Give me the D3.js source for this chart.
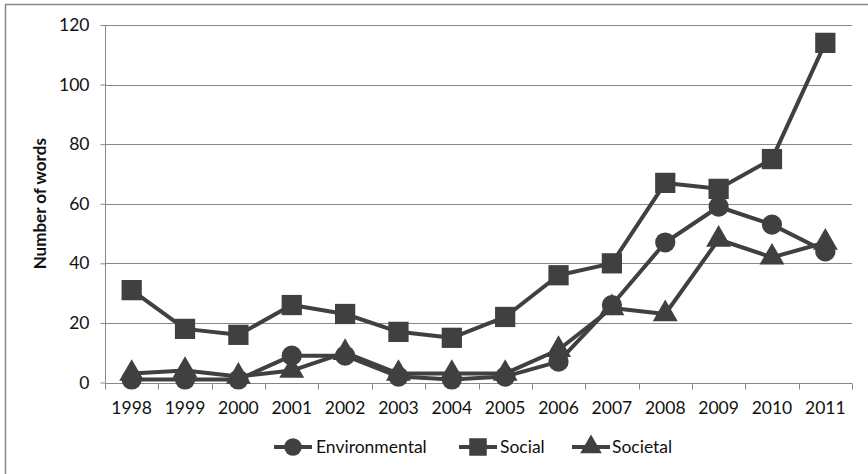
<!DOCTYPE html>
<html>
<head>
<meta charset="utf-8">
<script src="https://cdn.jsdelivr.net/npm/d3@7"></script>
<style>
  html, body { margin: 0; padding: 0; background: #fff; }
  svg { display: block; }
  text { font-family: Lato, "Open Sans", sans-serif; fill: #111; }
</style>
</head>
<body>
<svg id="chart" width="868" height="474"></svg>
<script>
// Years on the category axis
const years = ["1998","1999","2000","2001","2002","2003","2004","2005","2006","2007","2008","2009","2010","2011"];

// Word counts per year for each term
const environmental = [1, 1, 1, 9, 9, 2, 1, 2, 7, 26, 47, 59, 53, 44];
const social        = [31, 18, 16, 26, 23, 17, 15, 22, 36, 40, 67, 65, 75, 114];
const societal      = [3, 4, 2, 4, 10, 3, 3, 3, 11, 25, 23, 48, 42, 47];

// Value axis ticks
const yTicks = [0, 20, 40, 60, 80, 100, 120];

const seriesNames = ["Environmental", "Social", "Societal"];
const seriesValues = [environmental, social, societal];
const seriesSymbols = [d3.symbolCircle, d3.symbolSquare, d3.symbolTriangle];
const symbolSizes = [320, 410, 270];

const ink = "#404040";
const gridColor = "#878787";

const svg = d3.select("#chart");

// Outer chart frame (open on the right and bottom edges of the canvas)
svg.append("rect")
  .attr("x", 5.5).attr("y", 4.5)
  .attr("width", 900).attr("height", 500)
  .attr("fill", "none")
  .attr("stroke", gridColor)
  .attr("stroke-width", 1.5);

const plot = { left: 105, right: 852, top: 25, bottom: 382.5 };

const x = d3.scaleBand().domain(years).range([plot.left, plot.right]).padding(0);
const y = d3.scaleLinear().domain([0, 120]).range([plot.bottom, plot.top]);

// Horizontal gridlines
svg.append("g")
  .selectAll("line")
  .data(yTicks.filter(t => t > 0))
  .join("line")
  .attr("x1", plot.left).attr("x2", plot.right)
  .attr("y1", d => Math.round(y(d)) + 0.5).attr("y2", d => Math.round(y(d)) + 0.5)
  .attr("stroke", gridColor).attr("stroke-width", 1);

// Y axis
const yAxis = svg.append("g")
  .attr("transform", `translate(${plot.left + 0.5},0)`)
  .call(d3.axisLeft(y).tickValues(yTicks).tickSize(5).tickPadding(11).tickFormat(d3.format("d")));
yAxis.select(".domain").attr("stroke", gridColor).attr("d", `M0,${plot.top}V${plot.bottom}`);
yAxis.selectAll(".tick line").attr("stroke", gridColor);
yAxis.selectAll(".tick text").style("font-size", "17.5px").attr("fill", "#111");

// X axis: ticks sit on the category boundaries, labels at band centres
const xAxisG = svg.append("g")
  .attr("transform", `translate(0,${Math.round(plot.bottom) + 0.5})`);
xAxisG.append("line")
  .attr("x1", plot.left).attr("x2", plot.right)
  .attr("stroke", gridColor);
const boundaries = years.map(yr => x(yr)).concat([plot.right]);
xAxisG.selectAll("line.tick")
  .data(boundaries)
  .join("line")
  .attr("class", "tick")
  .attr("x1", d => Math.round(d) + 0.5).attr("x2", d => Math.round(d) + 0.5)
  .attr("y1", 0).attr("y2", 6)
  .attr("stroke", gridColor);
xAxisG.selectAll("text")
  .data(years)
  .join("text")
  .attr("x", d => x(d) + x.bandwidth() / 2)
  .attr("y", 30)
  .attr("text-anchor", "middle")
  .style("font-size", "17.5px")
  .text(d => d);

// Y axis title
svg.append("text")
  .attr("transform", `translate(46,${(plot.top + plot.bottom) / 2}) rotate(-90)`)
  .attr("text-anchor", "middle")
  .style("font-size", "17px")
  .style("font-weight", "bold")
  .attr("fill", "#000")
  .text("Number of words");

// Series lines and markers
const line = d3.line()
  .x((d, i) => x(years[i]) + x.bandwidth() / 2)
  .y(d => y(d));

seriesValues.forEach((vals, s) => {
  const g = svg.append("g");
  g.append("path")
    .datum(vals)
    .attr("d", line)
    .attr("fill", "none")
    .attr("stroke", ink)
    .attr("stroke-width", 4)
    .attr("stroke-linejoin", "round");
  g.selectAll("path.marker")
    .data(vals)
    .join("path")
    .attr("class", "marker")
    .attr("d", d3.symbol().type(seriesSymbols[s]).size(symbolSizes[s]))
    .attr("transform", (d, i) => `translate(${x(years[i]) + x.bandwidth() / 2},${y(d)})`)
    .attr("fill", ink);
});

// Legend
const legendItems = [
  { lineX: 274, textX: 316 },
  { lineX: 459, textX: 500 },
  { lineX: 572, textX: 612 }
];
const legendY = 447;
seriesNames.forEach((name, s) => {
  const it = legendItems[s];
  const g = svg.append("g");
  g.append("line")
    .attr("x1", it.lineX).attr("x2", it.lineX + 38)
    .attr("y1", legendY).attr("y2", legendY)
    .attr("stroke", ink).attr("stroke-width", 4);
  g.append("path")
    .attr("d", d3.symbol().type(seriesSymbols[s]).size(symbolSizes[s] * 0.75))
    .attr("transform", `translate(${it.lineX + 19},${legendY})`)
    .attr("fill", ink);
  g.append("text")
    .attr("x", it.textX).attr("y", legendY)
    .attr("dy", "0.35em")
    .style("font-size", "17.5px")
    .text(name);
});
</script>
</body>
</html>
